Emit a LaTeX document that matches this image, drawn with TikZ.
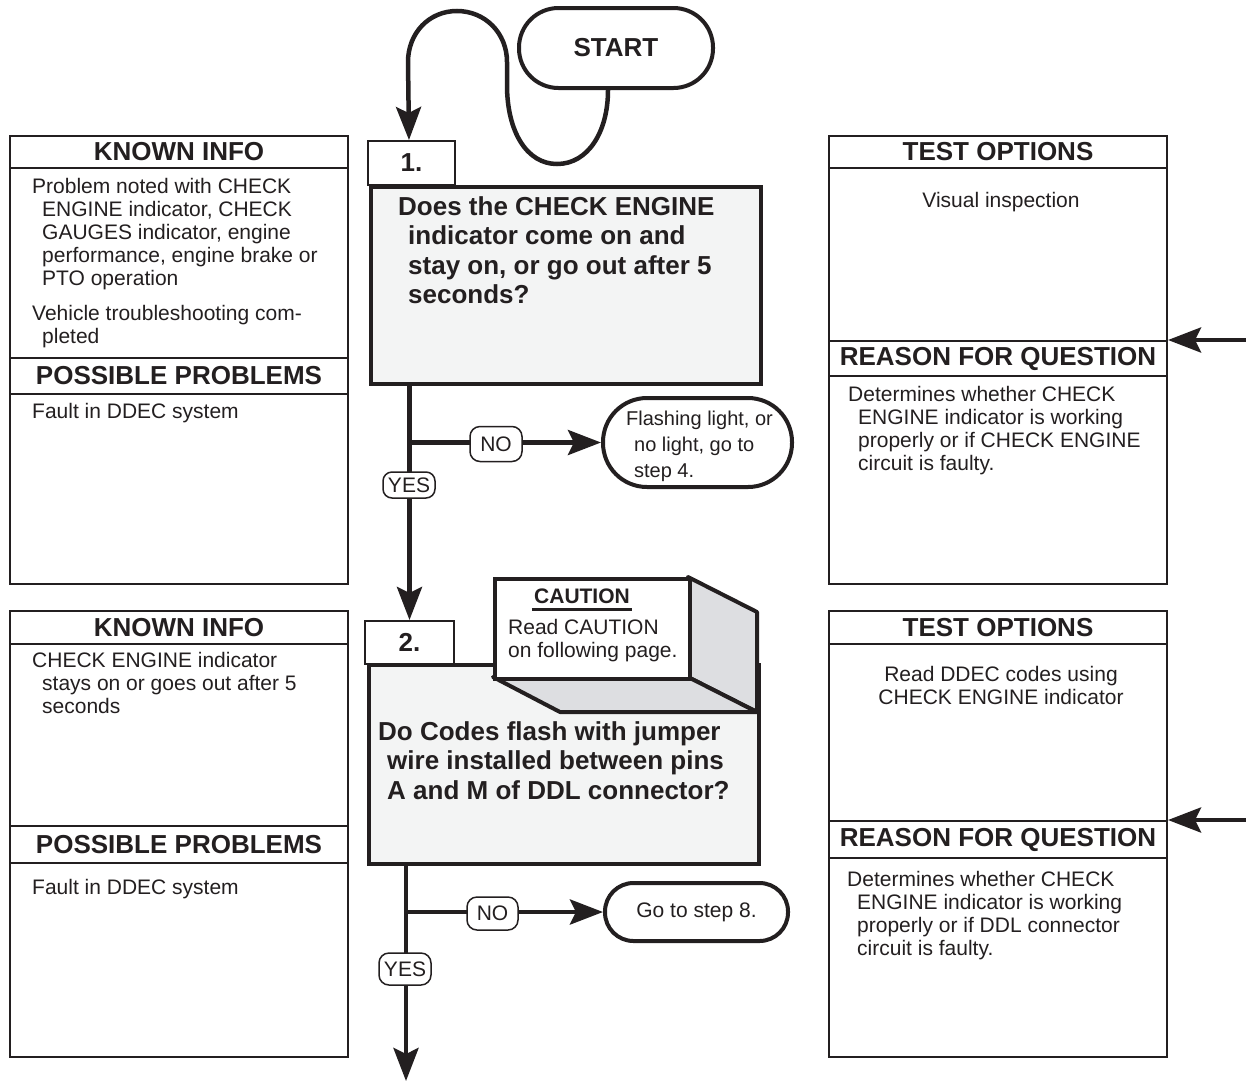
\documentclass[tikz,border=0pt]{standalone}
\usepackage{fontspec}
\setmainfont{Liberation Sans}
\usetikzlibrary{arrows.meta}
\definecolor{ink}{HTML}{231F20}
\definecolor{boxgray}{HTML}{F3F4F4}
\definecolor{facegray}{HTML}{DDDEE1}
\tikzset{
  every node/.style={inner sep=0pt, text=ink},
  panel/.style={draw=ink, line width=2pt},
  hdr/.style={panel, fill=white, font=\fontsize{26}{28}\selectfont\bfseries, minimum width=338pt, anchor=north west},
  btext/.style={font=\fontsize{21}{23}\selectfont, align=left, anchor=north west},
  qtext/.style={font=\fontsize{26}{29.5}\selectfont\bfseries, align=left, anchor=north west},
  qbox/.style={draw=ink, line width=4pt, fill=boxgray, anchor=north west},
  lbox/.style={draw=ink, line width=2pt, fill=white, font=\fontsize{26}{28}\selectfont\bfseries},
  term/.style={draw=ink, line width=4pt, fill=white, font=\fontsize{21}{26}\selectfont, align=left},
  tag/.style={draw=ink, line width=1.5pt, fill=white, rounded corners=10pt, font=\fontsize{21}{23}\selectfont},
  flow/.style={draw=ink, line width=4.5pt, -{Stealth[length=33pt,width=25pt,inset=6pt]}},
}
\begin{document}
\begin{tikzpicture}[x=1pt,y=-1pt]
\useasboundingbox (0,0) rectangle (1246,1082);
\fill[white] (0,0) rectangle (1246,1082);

% ---------- left panel 1 ----------
\node[panel, minimum width=338pt, minimum height=448pt, anchor=north west] (kp1) at (9,135) {};
\node[hdr, minimum height=32pt] (kh1) at (9,135) {KNOWN INFO};
\node[hdr, minimum height=36pt] (ph1) at (9,357) {POSSIBLE PROBLEMS};
\node[btext] (ki1a) at (32,178.5) {Problem noted with CHECK\\\hspace*{10pt}ENGINE indicator, CHECK\\\hspace*{10pt}GAUGES indicator, engine\\\hspace*{10pt}performance, engine brake or\\\hspace*{10pt}PTO operation};
\node[btext] (ki1b) at (32,305.5) {Vehicle troubleshooting com-\\\hspace*{10pt}pleted};
\node[btext] (pp1) at (32,403.5) {Fault in DDEC system};

% ---------- right panel 1 ----------
\node[panel, minimum width=338pt, minimum height=448pt, anchor=north west] (tp1) at (828,135) {};
\node[hdr, minimum height=32pt] (th1) at (828,135) {TEST OPTIONS};
\node[hdr, minimum height=35pt] (rh1) at (828,340) {REASON FOR QUESTION};
\node[btext, anchor=base] (to1) at (1001,207) {Visual inspection};
\node[btext] (rq1) at (848,386.5) {Determines whether CHECK\\\hspace*{10pt}ENGINE indicator is working\\\hspace*{10pt}properly or if CHECK ENGINE\\\hspace*{10pt}circuit is faulty.};

% ---------- left panel 2 ----------
\node[panel, minimum width=338pt, minimum height=446pt, anchor=north west] (kp2) at (9,610) {};
\node[hdr, minimum height=33pt] (kh2) at (9,610) {KNOWN INFO};
\node[hdr, minimum height=37pt] (ph2) at (9,825) {POSSIBLE PROBLEMS};
\node[btext] (ki2) at (32,652.5) {CHECK ENGINE indicator\\\hspace*{10pt}stays on or goes out after 5\\\hspace*{10pt}seconds};
\node[btext] (pp2) at (32,879.5) {Fault in DDEC system};

% ---------- right panel 2 ----------
\node[panel, minimum width=338pt, minimum height=446pt, anchor=north west] (tp2) at (828,610) {};
\node[hdr, minimum height=33pt] (th2) at (828,610) {TEST OPTIONS};
\node[hdr, minimum height=37pt] (rh2) at (828,820) {REASON FOR QUESTION};
\node[btext, align=center, anchor=north] (to2) at (1001,666.5) {Read DDEC codes using\\CHECK ENGINE indicator};
\node[btext] (rq2) at (847,871.5) {Determines whether CHECK\\\hspace*{10pt}ENGINE indicator is working\\\hspace*{10pt}properly or if DDL connector\\\hspace*{10pt}circuit is faulty.};

% ---------- side arrows ----------
\coordinate (ra1) at (1246,340);
\coordinate (ra2) at (1246,820);
\draw[flow] (ra1) -- (rh1.north east);
\draw[flow] (ra2) -- (rh2.north east);

% ---------- step 1 ----------
\node[term, minimum width=194pt, minimum height=80pt, rounded corners=39.5pt, font=\fontsize{26}{28}\selectfont\bfseries] (s) at (616,48) {START};
\node[lbox, minimum width=87pt, minimum height=44pt, anchor=north west] (l1) at (367,140) {1.};
\node[qbox, minimum width=390pt, minimum height=197pt] (q1) at (369,185) {};
\node[qtext] (q1t) at (398,196) {Does the CHECK ENGINE\\\hspace*{10pt}indicator come on and\\\hspace*{10pt}stay on, or go out after 5\\\hspace*{10pt}seconds?};

\draw[flow] ([xshift=-8pt]s.south) .. controls (608,132) and (588,164) .. (557,164)
  .. controls (527,164) and (507,132) .. (507,85) -- (507,62)
  .. controls (507,33) and (485,11) .. (457,11)
  .. controls (429,11) and (408,33) .. (408,62) -- ([xshift=-2.5pt]l1.north);

% ---------- step 2 ----------
\node[lbox, minimum width=89pt, minimum height=43pt, anchor=north west] (l2) at (364,620) {2.};
\node[qbox, minimum width=390pt, minimum height=199pt] (q2) at (367,663) {};
\filldraw[fill=facegray, draw=ink, line width=4pt, line join=round] (688,577) -- (757,612) -- (757,712) -- (688,677) -- cycle;
\filldraw[fill=facegray, draw=ink, line width=4pt, line join=round] (493,677) -- (688,677) -- (757,712) -- (560,712) -- cycle;
\node[draw=ink, fill=white, line width=4pt, minimum width=195pt, minimum height=100pt, anchor=north west] (cf) at (493,577) {};
\node[font=\fontsize{21}{23}\selectfont\bfseries, anchor=base] (ct) at (582,603) {CAUTION};
\draw[ink, line width=3pt] ([xshift=-2pt]ct.west |- 0,609) -- ([xshift=2pt]ct.east |- 0,609);
\node[btext] (cx) at (508,619.5) {Read CAUTION\\on following page.};
\node[qtext] (q2t) at (378,721) {Do Codes flash with jumper\\\hspace*{9pt}wire installed between pins\\\hspace*{9pt}A and M of DDL connector?};

% ---------- flow 1 ----------
\node[term, minimum width=189pt, minimum height=89pt, rounded corners=44pt, font=\fontsize{20}{26}\selectfont] (t1) at (697.5,442.5) {\rule{0pt}{23pt}\hspace*{4pt}Flashing light, or\\\hspace*{12pt}no light, go to\\\hspace*{12pt}step 4.};
\coordinate (b1) at (l2.north |- t1.west);
\draw[flow] (l2.north |- q1.south) -- (l2.north);
\draw[flow] (b1) -- (t1.west);
\node[tag, minimum width=52pt, minimum height=35pt] (no1) at (496,444) {NO};
\node[tag, minimum width=52pt, minimum height=26pt, rounded corners=9pt] (yes1) at (409,485) {YES};

% ---------- flow 2 ----------
\node[term, minimum width=183pt, minimum height=58pt, rounded corners=28.5pt] (t2) at (696.5,912) {Go to step 8.};
\coordinate (e2) at (406,1081);
\coordinate (b2) at (e2 |- t2.west);
\draw[flow] (e2 |- q2.south) -- (e2);
\draw[flow] (b2) -- (t2.west);
\node[tag, minimum width=51pt, minimum height=33pt] (no2) at (492.5,913.5) {NO};
\node[tag, minimum width=52pt, minimum height=32pt] (yes2) at (405,969) {YES};
\end{tikzpicture}
\end{document}
